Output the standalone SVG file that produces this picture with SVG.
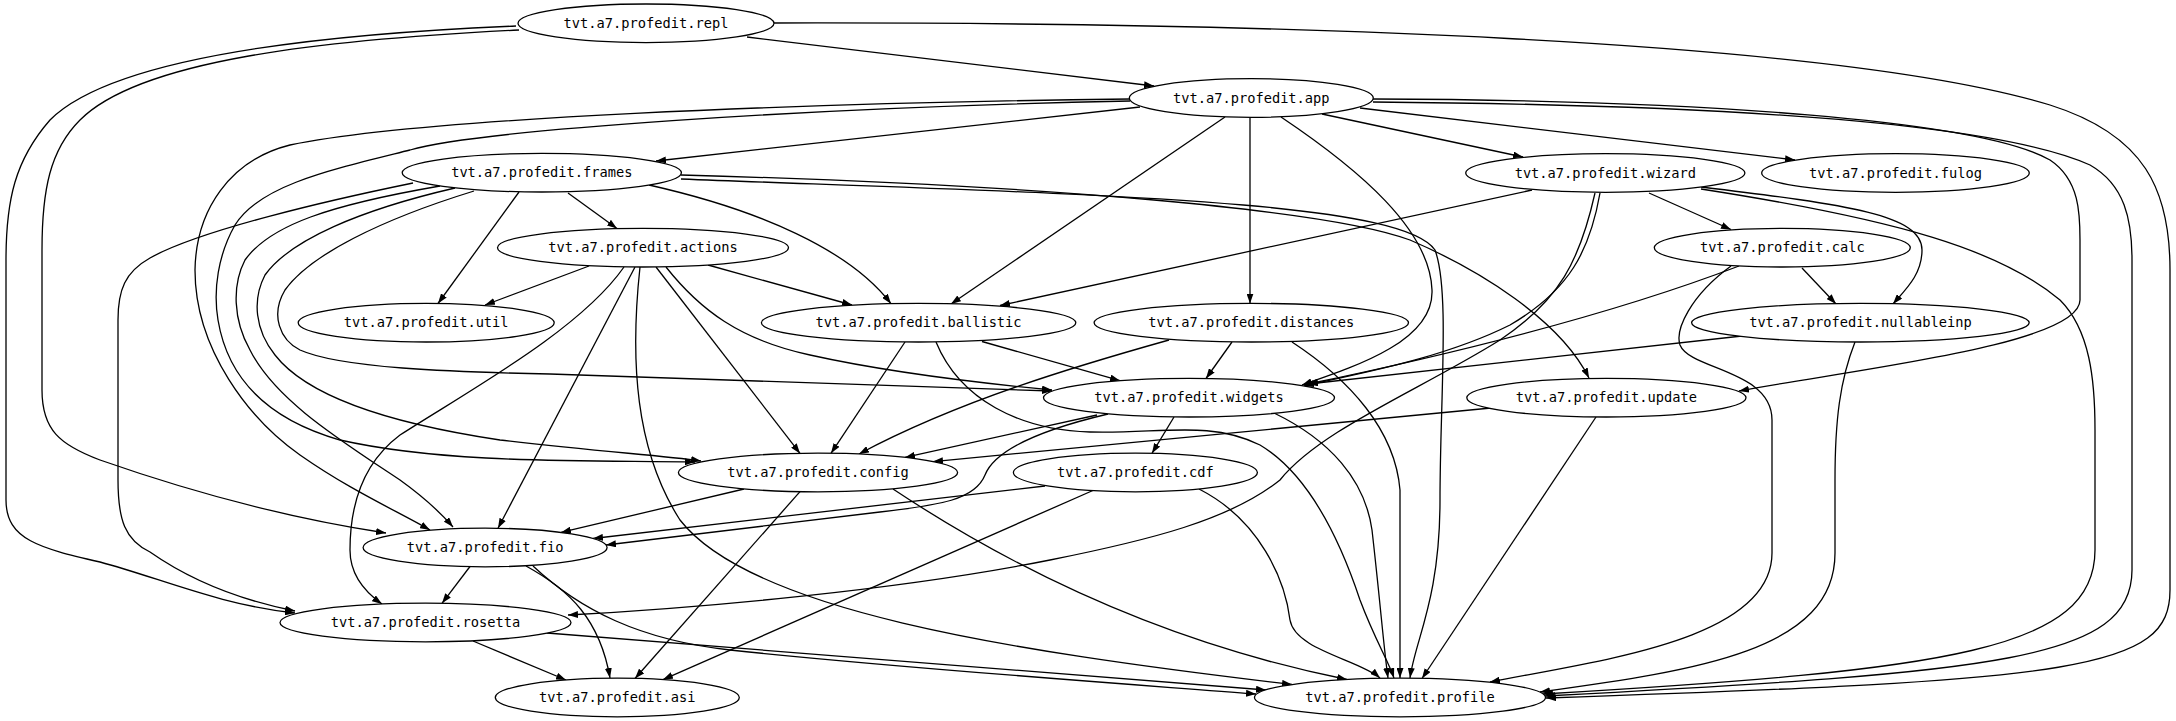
<svg xmlns="http://www.w3.org/2000/svg" width="2176" height="721" viewBox="0 0 2176 721">
<style>
.e{fill:none;stroke:#000;stroke-width:1.3;marker-end:url(#ah)}
.n ellipse{fill:#fff;stroke:#000;stroke-width:1.3}
.n text{font-family:"DejaVu Sans Mono",monospace;font-size:13.7px;text-anchor:middle;fill:#000}
</style>
<defs>
<marker id="ah" markerUnits="userSpaceOnUse" markerWidth="10" markerHeight="7" viewBox="0 0 10 7" refX="10" refY="3.5" orient="auto">
<path d="M0,0 L10,3.5 L0,7 z" fill="#000"/>
</marker>
</defs>
<rect width="2176" height="721" fill="#fff"/>
<g id="connectors">
<path class="e" d="M747,37 L1154,86"/>
<path class="e" d="M774,23 C1250,22 1830,38 2050,105 C2145,135 2170,190 2170,270 L2170,590 C2170,670 2080,680 1546,698"/>
<path class="e" d="M519,30 C320,40 140,60 80,120 C50,150 42,190 42,250 L42,390 C42,430 60,445 100,460 C200,495 300,520 386,533"/>
<path class="e" d="M516,26 C300,35 110,60 50,120 C15,160 6,200 6,260 L6,500 C6,540 40,548 100,562 C160,578 220,605 295,613"/>
<path class="e" d="M1140,107 L656,161"/>
<path class="e" d="M1322,114 L1523,157"/>
<path class="e" d="M1360,108 L1795,160"/>
<path class="e" d="M1225,117 L951,304"/>
<path class="e" d="M1250,118 L1250,303.5"/>
<path class="e" d="M1281,117 C1360,170 1430,230 1432,290 C1434,340 1360,365 1302,385"/>
<path class="e" d="M1373,99 C1700,100 1980,120 2050,160 C2080,180 2080,215 2080,240 L2080,300 C2080,345 1850,370 1739,391"/>
<path class="e" d="M1373,102 C1750,105 2000,125 2090,165 C2125,185 2132,220 2132,260 L2132,570 C2132,660 2000,672 1545,696"/>
<path class="e" d="M1130,101 C800,108 480,130 410,150 C330,170 260,185 235,225 C218,255 213,290 218,320 C228,380 270,420 340,440 C450,465 600,460 695,462"/>
<path class="e" d="M1130,99 C800,103 420,118 290,145 C230,160 196,210 195,270 C195,350 250,420 300,455 C350,490 395,510 430,530"/>
<path class="e" d="M568,193 L617,228.5"/>
<path class="e" d="M519,192 L438,303.5"/>
<path class="e" d="M649,185 C760,210 850,250 891,303.7"/>
<path class="e" d="M474,191 C380,220 310,255 285,290 C270,315 280,340 300,350 C340,368 450,372 550,374 C750,380 950,386 1052,391"/>
<path class="e" d="M455,188 C360,210 290,240 265,275 C252,300 255,330 275,355 C310,400 400,425 500,440 C600,452 660,455 701,461"/>
<path class="e" d="M440,186 C330,205 270,225 245,260 C232,285 233,320 250,350 C275,400 340,440 400,480 C425,498 440,512 453,527"/>
<path class="e" d="M413,183 C330,200 200,230 150,258 C125,272 118,290 118,320 L118,480 C118,520 125,540 150,552 C190,580 240,600 295,611"/>
<path class="e" d="M681,175 C1050,185 1330,210 1410,240 C1480,270 1560,320 1589,378"/>
<path class="e" d="M681,179 C1100,195 1400,200 1435,250 C1450,290 1440,400 1440,500 C1440,600 1415,640 1410,678"/>
<path class="e" d="M1532,190 L1000,305.5"/>
<path class="e" d="M1649,193 L1731,229.5"/>
<path class="e" d="M1701,187 C1850,205 1922,215 1922,250 C1922,275 1905,290 1893,304"/>
<path class="e" d="M1600,193 C1590,250 1570,290 1510,325 C1440,360 1350,375 1304,386"/>
<path class="e" d="M1595,193 C1580,260 1560,300 1500,340 C1420,390 1320,430 1280,480 C1230,520 1150,540 1050,560 C900,590 700,608 568,615"/>
<path class="e" d="M1701,189 C1900,220 2000,250 2060,300 C2090,330 2095,380 2095,430 L2095,550 C2095,650 1950,670 1543,694"/>
<path class="e" d="M1802,268 L1836,304"/>
<path class="e" d="M1739,266 C1650,300 1520,340 1308,384"/>
<path class="e" d="M1731,266 C1690,296 1675,330 1680,345 C1690,370 1772,370 1772,420 L1772,553 C1772,640 1600,660 1490,682"/>
<path class="e" d="M589,266 L485,305"/>
<path class="e" d="M708,265 L852,305"/>
<path class="e" d="M666,267 C700,310 740,340 810,355 C900,375 1000,385 1052,390"/>
<path class="e" d="M656,267 L800,453.4"/>
<path class="e" d="M635,267 L498,528.3"/>
<path class="e" d="M624,267 C580,330 470,390 400,435 C360,465 350,510 350,550 C350,575 365,592 382,604"/>
<path class="e" d="M640,267 C630,360 635,450 680,520 C750,610 1000,650 1292,684.5"/>
<path class="e" d="M905,342 L831,453.3"/>
<path class="e" d="M982,341.5 L1120,380.7"/>
<path class="e" d="M936,342 C960,400 1020,430 1090,432 C1160,434 1210,420 1260,445 C1310,475 1340,540 1360,600 C1375,640 1388,660 1394,678"/>
<path class="e" d="M1232,342 L1206,378.5"/>
<path class="e" d="M1169,340 C1080,365 960,400 859,454"/>
<path class="e" d="M1292,342 C1350,380 1395,430 1400,490 L1400,678"/>
<path class="e" d="M1742,336 L1308,384"/>
<path class="e" d="M1855,342 C1840,380 1835,420 1835,480 L1835,553 C1835,650 1700,670 1540,692"/>
<path class="e" d="M1097,415 L905,457.4"/>
<path class="e" d="M1174,417 L1152,453.3"/>
<path class="e" d="M1108,414 C1040,430 995,450 985,475 C975,500 940,505 880,512 L606,545"/>
<path class="e" d="M1274,413 C1330,440 1365,480 1372,530 C1380,600 1384,650 1388,678"/>
<path class="e" d="M1491,408 L933,461.6"/>
<path class="e" d="M1596,417 L1422,678.5"/>
<path class="e" d="M744,489 L561,532.4"/>
<path class="e" d="M800,491.6 L635,678.5"/>
<path class="e" d="M893,489 C1000,560 1150,640 1347,679.5"/>
<path class="e" d="M1045,486 L593,538.5"/>
<path class="e" d="M1094,490 L663,679.6"/>
<path class="e" d="M1199,489 C1260,520 1285,580 1290,620 C1295,650 1360,660 1380,678"/>
<path class="e" d="M470,566.5 L442,603.3"/>
<path class="e" d="M526,566 C570,590 600,620 610,678"/>
<path class="e" d="M533,566 C580,610 640,640 730,650 C900,668 1100,682 1256,694"/>
<path class="e" d="M473,641 L566,680"/>
<path class="e" d="M547,633 L1266,690"/>
</g>
<g id="repl" class="n"><ellipse cx="646" cy="23.3" rx="128" ry="19.3"/><text x="646" y="28">tvt.a7.profedit.repl</text></g>
<g id="app" class="n"><ellipse cx="1251.3" cy="98" rx="122" ry="19.3"/><text x="1251.3" y="102.7">tvt.a7.profedit.app</text></g>
<g id="frames" class="n"><ellipse cx="541.8" cy="172.7" rx="139.6" ry="19.3"/><text x="541.8" y="177.4">tvt.a7.profedit.frames</text></g>
<g id="wizard" class="n"><ellipse cx="1605.3" cy="173" rx="139.6" ry="19.3"/><text x="1605.3" y="177.7">tvt.a7.profedit.wizard</text></g>
<g id="fulog" class="n"><ellipse cx="1895.5" cy="173" rx="133.8" ry="19.3"/><text x="1895.5" y="177.7">tvt.a7.profedit.fulog</text></g>
<g id="actions" class="n"><ellipse cx="643" cy="247.7" rx="145.5" ry="19.3"/><text x="643" y="252.4">tvt.a7.profedit.actions</text></g>
<g id="calc" class="n"><ellipse cx="1782.3" cy="247.7" rx="128" ry="19.3"/><text x="1782.3" y="252.4">tvt.a7.profedit.calc</text></g>
<g id="util" class="n"><ellipse cx="426.2" cy="322.7" rx="128" ry="19.3"/><text x="426.2" y="327.4">tvt.a7.profedit.util</text></g>
<g id="ballistic" class="n"><ellipse cx="918.6" cy="322.7" rx="157.2" ry="19.3"/><text x="918.6" y="327.4">tvt.a7.profedit.ballistic</text></g>
<g id="distances" class="n"><ellipse cx="1251.3" cy="322.7" rx="157.2" ry="19.3"/><text x="1251.3" y="327.4">tvt.a7.profedit.distances</text></g>
<g id="nullableinp" class="n"><ellipse cx="1860.4" cy="322.7" rx="168.8" ry="19.3"/><text x="1860.4" y="327.4">tvt.a7.profedit.nullableinp</text></g>
<g id="widgets" class="n"><ellipse cx="1189" cy="397.7" rx="145.5" ry="19.3"/><text x="1189" y="402.4">tvt.a7.profedit.widgets</text></g>
<g id="update" class="n"><ellipse cx="1606.4" cy="397.7" rx="139.6" ry="19.3"/><text x="1606.4" y="402.4">tvt.a7.profedit.update</text></g>
<g id="config" class="n"><ellipse cx="818" cy="472.5" rx="139.6" ry="19.3"/><text x="818" y="477.2">tvt.a7.profedit.config</text></g>
<g id="cdf" class="n"><ellipse cx="1135.4" cy="472.5" rx="122" ry="19.3"/><text x="1135.4" y="477.2">tvt.a7.profedit.cdf</text></g>
<g id="fio" class="n"><ellipse cx="485.1" cy="547.5" rx="122" ry="19.3"/><text x="485.1" y="552.2">tvt.a7.profedit.fio</text></g>
<g id="rosetta" class="n"><ellipse cx="425.5" cy="622.5" rx="145.5" ry="19.3"/><text x="425.5" y="627.2">tvt.a7.profedit.rosetta</text></g>
<g id="asi" class="n"><ellipse cx="617.3" cy="697.5" rx="122" ry="19.3"/><text x="617.3" y="702.2">tvt.a7.profedit.asi</text></g>
<g id="profile" class="n"><ellipse cx="1400" cy="697.5" rx="145.5" ry="19.3"/><text x="1400" y="702.2">tvt.a7.profedit.profile</text></g>
</svg>
